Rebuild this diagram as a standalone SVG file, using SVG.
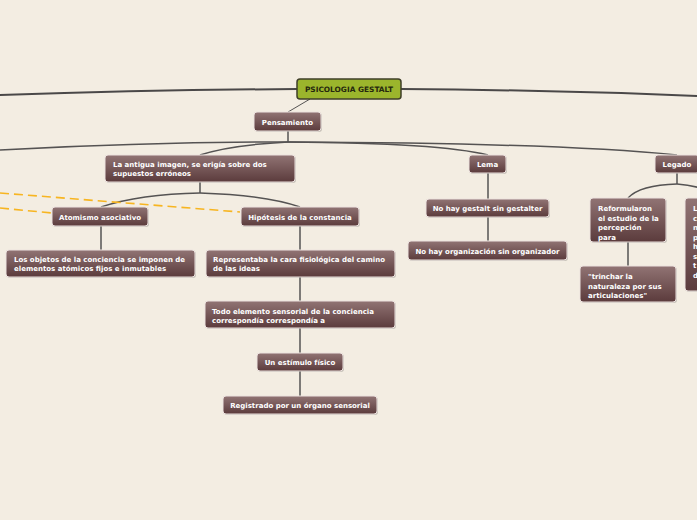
<svg xmlns="http://www.w3.org/2000/svg" width="697" height="520" viewBox="0 0 697 520">
<defs>
<linearGradient id="g" x1="0" y1="0" x2="0" y2="1">
<stop offset="0" stop-color="#917474"/>
<stop offset="1" stop-color="#5b3b3c"/>
</linearGradient>
<style>
.n{fill:url(#g);stroke:#ece2df;stroke-width:1}
.s{fill:#000;opacity:0.18}
.t{font-family:"DejaVu Sans",Verdana,sans-serif;font-weight:bold;font-size:7px;fill:#ffffff}
.c{text-anchor:middle}
.l{fill:none;stroke:#555353;stroke-width:1.5}
.lr{fill:none;stroke:#4a4848;stroke-width:2}
.d{fill:none;stroke:#f7b521;stroke-width:1.6;stroke-dasharray:9 5}
</style>
</defs>
<rect width="697" height="520" fill="#f3ede2"/>
<g id="connectors">
<path class="lr" d="M297,89 Q150,90 0,95"/>
<path class="lr" d="M401,89 Q550,90 697,96"/>
<path class="l" d="M310,99 L288,112" style="stroke-width:1"/>
<path class="l" d="M288,131 V142"/>
<path class="l" d="M288,142 Q150,142 0,150"/>
<path class="l" d="M288,142 Q230,145 200,155"/>
<path class="l" d="M288,142 Q440,143 488,155"/>
<path class="l" d="M288,142 Q560,143 677,155"/>
<path class="l" d="M200,182 V193"/>
<path class="l" d="M200,193 Q140,194 101,207"/>
<path class="l" d="M200,193 Q265,195 300,207"/>
<path class="l" d="M101,226 V250"/>
<path class="l" d="M300,226 V250"/>
<path class="l" d="M300,277 V301"/>
<path class="l" d="M300,328 V353"/>
<path class="l" d="M300,371 V396"/>
<path class="l" d="M488,173 V199"/>
<path class="l" d="M488,217 V241"/>
<path class="l" d="M677,173 V184"/>
<path class="l" d="M677,184 Q640,185 628,198"/>
<path class="l" d="M677,184 Q705,186 720,198"/>
<path class="l" d="M628,242 V266"/>
<path class="d" d="M0,193 L240,212"/>
<path class="d" d="M0,208 L52,213"/>
</g>
<g id="root">
<rect x="297" y="79" width="104" height="20" rx="3" fill="#9bb52c" stroke="#3f3f28" stroke-width="1.5"/>
<text class="t c" x="349" y="92" style="fill:#26280e;font-size:7.4px">PSICOLOGIA GESTALT</text>
</g>
<g id="pensamiento">
<rect class="s" x="255" y="113" width="67" height="19" rx="3"/>
<rect class="n" x="254" y="112" width="67" height="19" rx="3"/>
<text class="t c" x="287.5" y="124.5">Pensamiento</text>
</g>
<g id="antigua">
<rect class="s" x="106" y="156" width="190" height="27" rx="3"/>
<rect class="n" x="105" y="155" width="190" height="27" rx="3"/>
<text class="t" x="113" y="167">La antigua imagen, se erigía sobre dos</text>
<text class="t" x="113" y="176">supuestos erróneos</text>
</g>
<g id="lema">
<rect class="s" x="470" y="156" width="37" height="18" rx="3"/>
<rect class="n" x="469" y="155" width="37" height="18" rx="3"/>
<text class="t c" x="487.5" y="166.5">Lema</text>
</g>
<g id="legado">
<rect class="s" x="656" y="156" width="44" height="18" rx="3"/>
<rect class="n" x="655" y="155" width="44" height="18" rx="3"/>
<text class="t c" x="677" y="166.5">Legado</text>
</g>
<g id="atomismo">
<rect class="s" x="53" y="208" width="96" height="19" rx="3"/>
<rect class="n" x="52" y="207" width="96" height="19" rx="3"/>
<text class="t c" x="100" y="219.5">Atomismo asociativo</text>
</g>
<g id="hipotesis">
<rect class="s" x="242" y="208" width="118" height="19" rx="3"/>
<rect class="n" x="241" y="207" width="118" height="19" rx="3"/>
<text class="t c" x="300" y="219.5">Hipótesis de la constancia</text>
</g>
<g id="objetos">
<rect class="s" x="7" y="251" width="189" height="27" rx="3"/>
<rect class="n" x="6" y="250" width="189" height="27" rx="3"/>
<text class="t" x="14" y="262">Los objetos de la conciencia se imponen de</text>
<text class="t" x="14" y="271">elementos atómicos fijos e inmutables</text>
</g>
<g id="representaba">
<rect class="s" x="207" y="251" width="189" height="27" rx="3"/>
<rect class="n" x="206" y="250" width="189" height="27" rx="3"/>
<text class="t" x="213" y="262">Representaba la cara fisiológica del camino</text>
<text class="t" x="213" y="271">de las ideas</text>
</g>
<g id="todo">
<rect class="s" x="206" y="302" width="190" height="27" rx="3"/>
<rect class="n" x="205" y="301" width="190" height="27" rx="3"/>
<text class="t" x="212" y="314">Todo elemento sensorial de la conciencia</text>
<text class="t" x="212" y="323">correspondía correspondía a</text>
</g>
<g id="estimulo">
<rect class="s" x="258" y="354" width="86" height="18" rx="3"/>
<rect class="n" x="257" y="353" width="86" height="18" rx="3"/>
<text class="t c" x="300" y="364.5">Un estímulo físico</text>
</g>
<g id="registrado">
<rect class="s" x="224" y="397" width="154" height="18" rx="3"/>
<rect class="n" x="223" y="396" width="154" height="18" rx="3"/>
<text class="t c" x="300" y="407.5">Registrado por un órgano sensorial</text>
</g>
<g id="gestalt">
<rect class="s" x="427" y="200" width="123" height="18" rx="3"/>
<rect class="n" x="426" y="199" width="123" height="18" rx="3"/>
<text class="t c" x="487.5" y="210.5">No hay gestalt sin gestalter</text>
</g>
<g id="organizacion">
<rect class="s" x="409" y="242" width="159" height="19" rx="3"/>
<rect class="n" x="408" y="241" width="159" height="19" rx="3"/>
<text class="t c" x="487.5" y="253.5">No hay organización sin organizador</text>
</g>
<g id="reformularon">
<rect class="s" x="591" y="199" width="76" height="44" rx="3"/>
<rect class="n" x="590" y="198" width="76" height="44" rx="3"/>
<text class="t" x="598" y="211">Reformularon</text>
<text class="t" x="598" y="220.5">el estudio de la</text>
<text class="t" x="598" y="230">percepción</text>
<text class="t" x="598" y="239.5">para</text>
</g>
<g id="trinchar">
<rect class="s" x="581" y="267" width="96" height="36" rx="3"/>
<rect class="n" x="580" y="266" width="96" height="36" rx="3"/>
<text class="t" x="588" y="279">"trinchar la</text>
<text class="t" x="588" y="288.5">naturaleza por sus</text>
<text class="t" x="588" y="298">articulaciones"</text>
</g>
<g id="derecha">
<rect class="s" x="686" y="199" width="40" height="93" rx="3"/>
<rect class="n" x="685" y="198" width="40" height="93" rx="3"/>
<text class="t" x="693" y="211">L</text>
<text class="t" x="693" y="220.5">c</text>
<text class="t" x="693" y="230">n</text>
<text class="t" x="693" y="239.5">p</text>
<text class="t" x="693" y="249">h</text>
<text class="t" x="693" y="258.5">s</text>
<text class="t" x="693" y="268">t</text>
<text class="t" x="693" y="277.5">d</text>
</g>
</svg>
